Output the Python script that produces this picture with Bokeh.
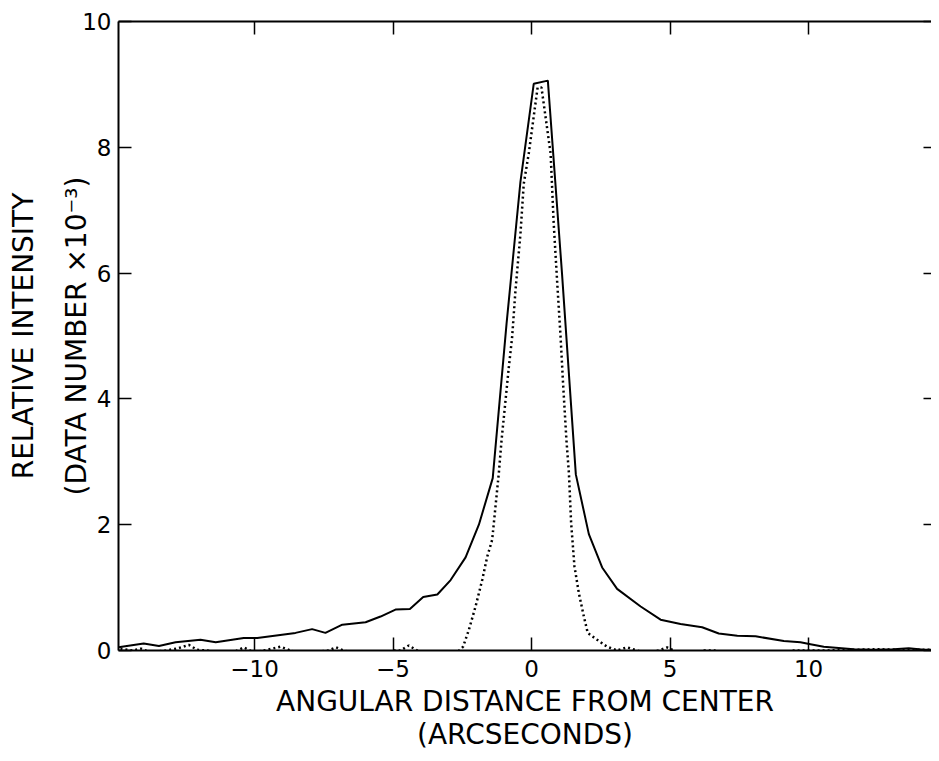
from bokeh.plotting import figure
from bokeh.models import LinearAxis, Range1d, FixedTicker
from bokeh.embed import file_html
from bokeh.resources import INLINE

# Observed profile (solid line), arcsec vs data number x 1e-3
obs_x = [-14.91, -14.0, -13.45, -12.85, -11.95, -11.4, -10.39, -9.9, -8.52, -7.92,
         -7.44, -6.83, -5.99, -5.45, -4.91, -4.39, -3.91, -3.40, -2.92, -2.38,
         -1.90, -1.40, -0.90, -0.40, 0.08, 0.59, 1.10, 1.60, 2.07, 2.55,
         3.09, 3.94, 4.66, 5.38, 6.16, 6.76, 7.43, 8.09, 9.11, 9.71,
         10.07, 10.55, 11.63, 12.35, 13.08, 13.62, 14.16, 14.73]
obs_y = [0.05, 0.11, 0.07, 0.13, 0.17, 0.13, 0.20, 0.20, 0.28, 0.34,
         0.28, 0.41, 0.45, 0.54, 0.65, 0.66, 0.85, 0.89, 1.12, 1.48,
         2.00, 2.74, 5.20, 7.45, 9.01, 9.06, 6.00, 2.80, 1.85, 1.32,
         0.98, 0.70, 0.49, 0.42, 0.37, 0.27, 0.235, 0.226, 0.15, 0.13,
         0.10, 0.06, 0.02, 0.013, 0.02, 0.035, 0.013, 0.013]

# Point-spread profile (dotted line)
psf_x = [-14.84, -14.4, -14.1, -13.75, -13.2, -12.8, -12.37, -12.07, -11.7, -11.2,
         -10.9, -10.62, -10.39, -10.03, -9.66, -9.06, -8.70, -8.30, -7.98, -7.32,
         -7.06, -6.78, -6.42, -6.05, -5.69, -5.33, -4.97, -4.73, -4.43, -4.13,
         -3.89, -3.47, -3.04, -2.68, -2.47, -2.26, -2.02, -1.78, -1.60, -1.42,
         -1.30, -1.18, -1.08, -0.82, -0.70, -0.58, -0.40, -0.28, -0.10, 0.22,
         0.36, 0.69, 0.80, 0.93, 1.05, 1.14, 1.26, 1.35, 1.43, 1.55,
         1.71, 1.89, 2.03, 2.37, 2.73, 3.09, 3.45, 3.81, 4.18, 4.66,
         4.90, 5.14, 5.56, 5.86, 6.22, 6.60, 7.06, 7.60, 8.27, 8.75,
         9.11, 9.47, 9.83, 10.5, 11.5, 12.5, 13.5, 14.7]
psf_y = [0.03, 0.0, 0.03, -0.03, 0.0, 0.03, 0.09, 0.01, 0.0, -0.07,
         -0.05, 0.0, 0.05, -0.03, 0.0, 0.06, 0.0, -0.05, -0.03, 0.0,
         0.05, 0.0, -0.04, -0.08, -0.11, -0.06, 0.0, 0.0, 0.08, 0.0,
         -0.05, -0.11, -0.08, -0.03, 0.06, 0.33, 0.70, 1.12, 1.49, 1.76,
         2.29, 2.82, 3.35, 4.50, 4.98, 5.72, 6.62, 7.42, 7.90, 8.95,
         8.95, 7.90, 6.80, 5.83, 4.98, 4.24, 3.35, 2.82, 2.03, 1.34,
         0.91, 0.54, 0.28, 0.17, 0.06, 0.0, 0.05, 0.0, -0.05, 0.01,
         0.05, 0.0, -0.08, -0.04, 0.0, 0.0, -0.05, -0.05, -0.05, -0.08,
         -0.05, 0.0, 0.0, 0.0, 0.01, 0.02, 0.01, 0.01]

x_ticks = [-10, -5, 0, 5, 10]
y_ticks = [0, 2, 4, 6, 8, 10]
x_title = "ANGULAR DISTANCE FROM CENTER\n(ARCSECONDS)"
y_title = "RELATIVE INTENSITY\n(DATA NUMBER \u00d710\u207b\u00b3)"

FONT = "DejaVu Sans"

p = figure(width=931, height=753, output_backend="svg", toolbar_location=None,
           x_range=Range1d(-14.91, 14.44), y_range=Range1d(0, 10),
           x_axis_location=None, y_axis_location=None,
           min_border_left=118, min_border_right=0, min_border_top=21,
           min_border_bottom=103)
p.outline_line_color = None
p.xgrid.visible = False
p.ygrid.visible = False
p.background_fill_color = "white"
p.border_fill_color = "white"

def style(ax, labels=True):
    ax.axis_line_color = "black"
    ax.axis_line_width = 2
    ax.major_tick_line_color = "black"
    ax.major_tick_line_width = 1.5
    ax.major_tick_in = 13
    ax.major_tick_out = 0
    ax.minor_tick_line_color = None
    ax.major_label_text_font = FONT
    ax.major_label_text_color = "black"
    ax.axis_label_text_font = FONT
    ax.axis_label_text_font_style = "normal"
    ax.axis_label_text_color = "black"
    if not labels:
        ax.major_label_text_font_size = "0px"
        ax.major_label_standoff = 0

bottom = LinearAxis(ticker=FixedTicker(ticks=x_ticks), axis_label=x_title)
style(bottom)
bottom.major_label_text_font_size = "23px"
bottom.major_label_standoff = 9
bottom.axis_label_text_font_size = "28px"
bottom.axis_label_text_line_height = 1.0
bottom.axis_label_standoff = 5
p.add_layout(bottom, "below")

top = LinearAxis(ticker=FixedTicker(ticks=x_ticks))
style(top, labels=False)
p.add_layout(top, "above")

left = LinearAxis(ticker=FixedTicker(ticks=y_ticks), axis_label=y_title)
style(left)
left.major_label_text_font_size = "23px"
left.major_label_standoff = 7
left.axis_label_text_font_size = "28px"
left.axis_label_text_line_height = 1.6
left.axis_label_standoff = -14
p.add_layout(left, "left")

right = LinearAxis(ticker=FixedTicker(ticks=y_ticks))
style(right, labels=False)
right.axis_line_color = None
right.major_tick_in = 8
p.add_layout(right, "right")

p.line(obs_x, obs_y, line_color="black", line_width=2)
p.line(psf_x, psf_y, line_color="black", line_width=2.5, line_dash="2 3")

open("out.html", "w").write(file_html(p, INLINE))
